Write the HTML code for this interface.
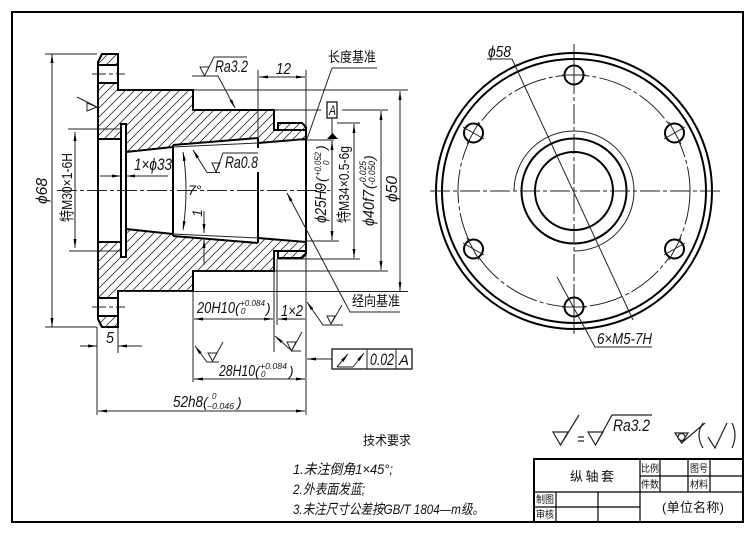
<!DOCTYPE html>
<html><head><meta charset="utf-8"><style>
html,body{margin:0;padding:0;background:#fff}
svg{display:block}
text{font-family:"Liberation Sans","Noto Sans CJK SC",sans-serif;fill:#111;font-style:italic}
.c{font-family:"Liberation Sans","WenQuanYi Zen Hei","Noto Sans CJK SC",sans-serif;font-style:normal}
.k{fill:none;stroke:#000;stroke-width:2}
.n{fill:none;stroke:#222;stroke-width:1}
.cl{fill:none;stroke:#222;stroke-width:1;stroke-dasharray:20 3 4 3}
</style></head><body>
<svg width="754" height="533" viewBox="0 0 754 533" xmlns="http://www.w3.org/2000/svg">
<defs>
<pattern id="h" patternUnits="userSpaceOnUse" width="9" height="9"><path d="M-1,10L10,-1M-1,1L1,-1M8,10L10,8" stroke="#333" stroke-width=".8" fill="none"/></pattern>
<marker id="a" markerUnits="userSpaceOnUse" markerWidth="10" markerHeight="5" refX="9" refY="2.5" orient="auto-start-reverse"><path d="M0,1L9,2.5L0,4z" fill="#000"/></marker>
</defs>
<rect width="754" height="533" fill="#fff"/>
<rect x="12" y="12" width="731" height="510" fill="none" stroke="#000" stroke-width="2"/>

<!-- hatching -->
<g fill="url(#h)">
<path d="M98,83H118V90H193V110H274V130H306V139L258,143V138L173,145V147L126,152V124H121V139H98z"/>
<path d="M278,123H302L306,127V130H278z"/>
<path d="M98,62L102,54H118V65H98z"/>
<path d="M98,298H118V291H193V271H274V251H306V242L258,238V243L173,236V234L126,229V257H121V242H98z"/>
<path d="M278,258H302L306,254V251H278z"/>
<path d="M98,319L102,327H118V316H98z"/>
</g>

<!-- section outlines -->
<g class="k">
<path d="M98,190.5V62L102,54H118V90H193V110H274V130H278V123H302L306,127V190.5"/>
<path d="M98,65H118M98,83H118M98,139H121M121,190V124H126V190M126,152L173,147M173,145L258,138M173,190V145M258,148V138M258,143L306,139M278,130H306" />
<path d="M98,190.5V319L102,327H118V291H193V271H274V251H278V258H302L306,254V190.5"/>
<path d="M98,316H118M98,298H118M98,242H121M121,190V257H126V190M126,229L173,234M173,236L258,243M173,190V236M258,172V243M258,238L306,242M278,251H306"/>
</g>
<path class="n" d="M173,147L258,143M173,234L258,238"/>

<!-- centre lines left view -->
<path class="cl" d="M57,190.5H330"/>
<path class="cl" d="M92,74H125M92,307H125" style="stroke-dasharray:14 3 4 3"/>

<!-- extension lines -->
<g class="n">
<path d="M45,54H97M45,327H97M68,129H121M69,251H121"/>
<path d="M193,90H408M274,110H321M342,110H388M290,140H334M337,123H360M306,241H339M278,259H360M193,271H388M118,291.5H408"/>
<path d="M258,70V138M306,70V127M306,254V415"/>
<path d="M97,327V415M118,327V353M193,292V382M274,252V352M277,259V325"/>
</g>

<!-- dims -->
<g class="n">
<path d="M52,54V327" marker-start="url(#a)" marker-end="url(#a)"/>
<path d="M75,132V248" marker-start="url(#a)" marker-end="url(#a)"/>
<path d="M400,91V291" marker-start="url(#a)" marker-end="url(#a)"/>
<path d="M381,111V270" marker-start="url(#a)" marker-end="url(#a)"/>
<path d="M354,124V258" marker-start="url(#a)" marker-end="url(#a)"/>
<path d="M332,141V240" marker-start="url(#a)" marker-end="url(#a)"/>
<path d="M259,77H305" marker-start="url(#a)" marker-end="url(#a)"/>
<path d="M98,411H305" marker-start="url(#a)" marker-end="url(#a)"/>
<path d="M194,379H305" marker-start="url(#a)" marker-end="url(#a)"/>
<path d="M194,319H273" marker-start="url(#a)" marker-end="url(#a)"/>
<path d="M278,319H305" marker-start="url(#a)"/>
<path d="M80,346H97" marker-end="url(#a)"/>
<path d="M142,346H118" marker-end="url(#a)"/>
<path d="M100,176H121" marker-end="url(#a)"/>
<path d="M168,176H126" marker-end="url(#a)"/>
<path d="M204,211V233" marker-end="url(#a)"/>
<path d="M204,265V239" marker-end="url(#a)"/>
<path d="M186,190Q186,170 183,152" marker-end="url(#a)"/>
<path d="M186,190Q186,210 183,230" marker-end="url(#a)"/>
</g>

<!-- datum -->
<rect x="327" y="102" width="10" height="16" fill="#fff" stroke="#000" stroke-width="1.2"/>
<path class="n" d="M332,118V134"/>
<path d="M327,139H338L332.5,133z" fill="#000"/>
<path class="n" d="M332,68H377M332,68L307,139"/>
<path class="n" d="M400,312H350L287,193" marker-end="url(#a)"/>

<!-- roughness symbols -->
<g class="n">
<path d="M192,76H218M200,67H209L204.5,76zM204.5,76L214,57H247"/>
<path d="M218,76L235,108" marker-end="url(#a)"/>
<path d="M212,163H220L216,172zM216,172L223,153H258"/>
<path d="M220,172.5H207L193,150" marker-end="url(#a)"/>
<path d="M97,107L77,97M97,107L87,111V103z"/>
<path d="M343,325H323L307,302" marker-end="url(#a)"/>
<path d="M327,316H335L331,324zM331,324L342,305"/>
<path d="M301,351H292L275,336" marker-end="url(#a)"/>
<path d="M287,342H296L291.5,351zM291.5,351L302,332"/>
<path d="M219,362H207L195,346" marker-end="url(#a)"/>
<path d="M208,353H217L212.5,361zM212.5,361L223,342"/>
</g>

<!-- tolerance frame -->
<rect x="332" y="349" width="80" height="20" fill="none" stroke="#000" stroke-width="1.2"/>
<path class="n" d="M367,349V369M396,349V369"/>
<path class="n" d="M332,359H307" marker-end="url(#a)"/>
<path class="n" d="M337,367H353"/>
<path class="n" d="M337,367L348,354" marker-end="url(#a)"/>
<path class="n" d="M353,367L364,353" marker-end="url(#a)"/>

<!-- left view labels -->
<text transform="translate(47,204) rotate(-90)" font-size="16" textLength="26" lengthAdjust="spacingAndGlyphs">ϕ68</text>
<text class="c" transform="translate(72,222) rotate(-90)" font-size="15" textLength="69" lengthAdjust="spacingAndGlyphs">特M30×1-6H</text>
<text x="134" y="170" font-size="17" textLength="38" lengthAdjust="spacingAndGlyphs">1×ϕ33</text>
<text x="215" y="72" font-size="17" textLength="33" lengthAdjust="spacingAndGlyphs">Ra3.2</text>
<text x="225" y="168" font-size="17" textLength="33" lengthAdjust="spacingAndGlyphs">Ra0.8</text>
<text x="276" y="74" font-size="16" textLength="15" lengthAdjust="spacingAndGlyphs">12</text>
<text x="188" y="195" font-size="14">7°</text>
<text transform="translate(202,217) rotate(-90)" font-size="14">1</text>
<text class="c" x="328" y="62" font-size="14" textLength="48" lengthAdjust="spacingAndGlyphs">长度基准</text>
<text class="c" x="352" y="306" font-size="14" textLength="48" lengthAdjust="spacingAndGlyphs">经向基准</text>
<text x="329" y="115" font-size="14" textLength="7" lengthAdjust="spacingAndGlyphs">A</text>

<text transform="translate(326,223) rotate(-90)" font-size="16" textLength="40" lengthAdjust="spacingAndGlyphs">ϕ25H9</text>
<text transform="translate(326,182) rotate(-90)" font-size="14">(</text>
<text transform="translate(321,176) rotate(-90)" font-size="9" textLength="24" lengthAdjust="spacingAndGlyphs">+0.052</text>
<text transform="translate(329,165) rotate(-90)" font-size="8">0</text>
<text transform="translate(326,150) rotate(-90)" font-size="14">)</text>
<text class="c" transform="translate(349,223) rotate(-90)" font-size="15" textLength="77" lengthAdjust="spacingAndGlyphs">特M34×0.5-6g</text>
<text transform="translate(374,226) rotate(-90)" font-size="16" textLength="36" lengthAdjust="spacingAndGlyphs">ϕ40f7</text>
<text transform="translate(374,189) rotate(-90)" font-size="14">(</text>
<text transform="translate(366,185) rotate(-90)" font-size="9" textLength="24" lengthAdjust="spacingAndGlyphs">-0.025</text>
<text transform="translate(375,185) rotate(-90)" font-size="9" textLength="24" lengthAdjust="spacingAndGlyphs">-0.050</text>
<text transform="translate(374,160) rotate(-90)" font-size="14">)</text>
<text transform="translate(397,202) rotate(-90)" font-size="16" textLength="26" lengthAdjust="spacingAndGlyphs">ϕ50</text>

<text x="106" y="343" font-size="16" textLength="8" lengthAdjust="spacingAndGlyphs">5</text>
<text x="281" y="316" font-size="16" textLength="22" lengthAdjust="spacingAndGlyphs">1×2</text>
<text x="197" y="313" font-size="16" textLength="38" lengthAdjust="spacingAndGlyphs">20H10</text>
<text x="235" y="313" font-size="14">(</text>
<text x="240" y="306" font-size="8" textLength="25" lengthAdjust="spacingAndGlyphs">+0.084</text>
<text x="241" y="314" font-size="8">0</text>
<text x="266" y="313" font-size="14">)</text>
<text x="219" y="376" font-size="16" textLength="36" lengthAdjust="spacingAndGlyphs">28H10</text>
<text x="255" y="376" font-size="14">(</text>
<text x="260" y="369" font-size="8" textLength="27" lengthAdjust="spacingAndGlyphs">+0.084</text>
<text x="261" y="377" font-size="8">0</text>
<text x="289" y="376" font-size="14">)</text>
<text x="173" y="407" font-size="16" textLength="30" lengthAdjust="spacingAndGlyphs">52h8</text>
<text x="203" y="407" font-size="14">(</text>
<text x="212" y="399" font-size="8">0</text>
<text x="207" y="409" font-size="8" textLength="27" lengthAdjust="spacingAndGlyphs">−0.046</text>
<text x="237" y="407" font-size="14">)</text>
<text x="370" y="365" font-size="17" textLength="24" lengthAdjust="spacingAndGlyphs">0.02</text>
<text x="399" y="365" font-size="15" textLength="10" lengthAdjust="spacingAndGlyphs">A</text>

<!-- right view -->
<g class="k">
<circle cx="574" cy="191" r="138"/>
<circle cx="574" cy="191" r="132"/>
<circle cx="574" cy="191" r="52.5"/>
<circle cx="574" cy="191" r="39"/>
</g>
<path class="n" d="M574,251A60,60 0 1 0 514,191"/>
<circle cx="574" cy="191" r="116" fill="none" stroke="#222" stroke-width="1" stroke-dasharray="34 3 4 3"/>
<g fill="#fff" stroke="#000" stroke-width="2">
<circle cx="574" cy="75" r="9.5"/>
<circle cx="574" cy="307" r="9.5"/>
<circle cx="473.5" cy="133" r="9.5"/>
<circle cx="674.5" cy="133" r="9.5"/>
<circle cx="473.5" cy="249" r="9.5"/>
<circle cx="674.5" cy="249" r="9.5"/>
</g>
<path class="cl" d="M430,191H722"/>
<path class="cl" d="M574,44V336"/>
<g class="n">
<path d="M562,75H586M574,63V87M562,307H586M574,295V319"/>
<path d="M463,127L484,139M479,122L467,144M664,139L685,127M669,122L681,144"/>
<path d="M463,243L484,255M467,238L479,260M664,255L685,243M669,260L681,238"/>
<path d="M487,59H512L633,320"/>
<path d="M652,347H595L557,277"/>
</g>
<text x="488" y="57" font-size="16" textLength="23" lengthAdjust="spacingAndGlyphs">ϕ58</text>
<text x="597" y="344" font-size="16" textLength="55" lengthAdjust="spacingAndGlyphs">6×M5-7H</text>

<!-- surface legend -->
<g class="n" style="stroke-width:1.2">
<path d="M553,432H568L560.5,445zM560.5,445L579,415"/>
<path d="M578,437H584M578,441H584"/>
<path d="M588,432H603L595.5,445zM595.5,445L612,415H652"/>
<path d="M681.5,443L705,423"/>
<path d="M675,433H688L681.5,443z"/>
<circle cx="681.5" cy="437" r="3.5"/>
<path d="M708,437L715,448L727,423"/>
<path d="M703,423Q695,435 703,448M732,423Q738,435 732,448"/>
</g>
<text x="613" y="431" font-size="17" textLength="37" lengthAdjust="spacingAndGlyphs">Ra3.2</text>

<!-- tech requirements -->
<text class="c" x="363" y="445" font-size="13" textLength="48" lengthAdjust="spacingAndGlyphs">技术要求</text>
<text class="c" x="293" y="474" font-size="14" textLength="100" lengthAdjust="spacingAndGlyphs" style="font-style:italic">1.未注倒角1×45°;</text>
<text class="c" x="293" y="494" font-size="14" textLength="72" lengthAdjust="spacingAndGlyphs" style="font-style:italic">2.外表面发蓝;</text>
<text class="c" x="293" y="514" font-size="14" textLength="191" lengthAdjust="spacingAndGlyphs" style="font-style:italic">3.未注尺寸公差按GB/T 1804—m级。</text>

<!-- title block -->
<g class="n" style="stroke:#000;stroke-width:1.2">
<path d="M534,522V459H743" style="stroke-width:2"/>
<path d="M640,476H743M534,492H743M534,507H640M640,459V522M660,459V492M688,459V492M710,459V492M556,492V522M598,492V522"/>
</g>
<text class="c" x="570" y="481" font-size="13" textLength="44">纵轴套</text>
<text class="c" x="641" y="472" font-size="10" textLength="18" lengthAdjust="spacingAndGlyphs">比例</text>
<text class="c" x="641" y="488" font-size="10" textLength="18" lengthAdjust="spacingAndGlyphs">件数</text>
<text class="c" x="690" y="472" font-size="10" textLength="18" lengthAdjust="spacingAndGlyphs">图号</text>
<text class="c" x="690" y="488" font-size="10" textLength="18" lengthAdjust="spacingAndGlyphs">材料</text>
<text class="c" x="536" y="503" font-size="10" textLength="18" lengthAdjust="spacingAndGlyphs">制图</text>
<text class="c" x="536" y="518" font-size="10" textLength="18" lengthAdjust="spacingAndGlyphs">审核</text>
<text class="c" x="662" y="512" font-size="13" textLength="62">(单位名称)</text>
</svg>
</body></html>
